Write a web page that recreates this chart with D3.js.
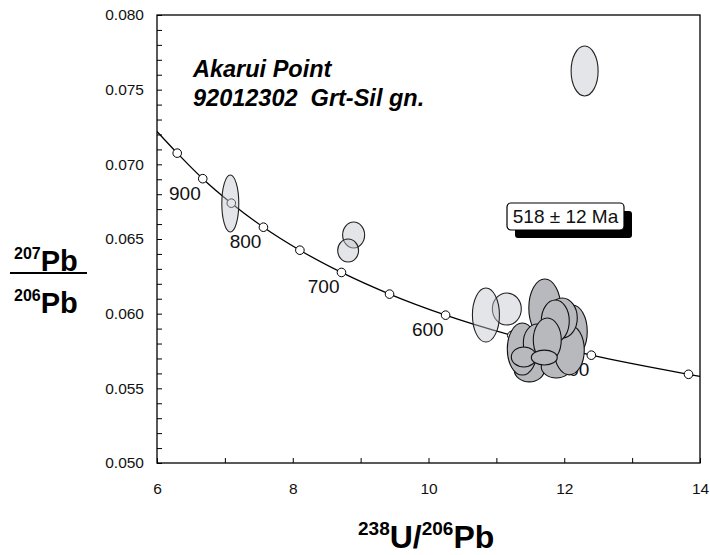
<!DOCTYPE html>
<html><head><meta charset="utf-8">
<script src="https://cdn.jsdelivr.net/npm/d3@7"></script>
<style>
body{margin:0;background:#fff;}
svg{font-family:"Liberation Sans",Arial,Helvetica,sans-serif;}
</style></head>
<body><svg id="c" width="710" height="555"></svg>
<script>
// ---- data ----
const xTicks = [6, 7, 8, 9, 10, 11, 12, 13, 14];
const xTickLabels = [6, 8, 10, 12, 14];
const yTickLabels = [0.050, 0.055, 0.060, 0.065, 0.070, 0.075, 0.080];
// concordia marker ages (Ma) and their positions
const markerAge = [950, 900, 850, 800, 750, 700, 650, 600, 550, 500, 450];
const markerX = [6.298, 6.674, 7.095, 7.568, 8.105, 8.718, 9.426, 10.252, 11.228, 12.399, 13.831];
const markerY = [0.07075, 0.06904, 0.06740, 0.06579, 0.06425, 0.06276, 0.06131, 0.05990, 0.05854, 0.05722, 0.05594];
// concordia curve including plot-edge end points
const curveX = [6.0, 6.298, 6.674, 7.095, 7.568, 8.105, 8.718, 9.426, 10.252, 11.228, 12.399, 13.831, 14.0];
const curveY = [0.07220, 0.07075, 0.06904, 0.06740, 0.06579, 0.06425, 0.06276, 0.06131, 0.05990, 0.05854, 0.05722, 0.05594, 0.05580];
const labelAges = [900, 800, 700, 600, 500];
// light (excluded) error ellipses: centre x, centre y, half-width, half-height
const lightX = [12.30, 7.08, 8.897, 8.816, 11.154, 10.846];
const lightY = [0.07625, 0.06738, 0.06527, 0.06423, 0.06031, 0.05991];
const lightRx = [0.199, 0.125, 0.162, 0.154, 0.213, 0.199];
const lightRy = [0.00167, 0.00191, 0.00087, 0.00077, 0.00107, 0.00181];
// dark (used) error ellipses
const darkX = [11.485, 11.882, 11.382, 11.713, 12.118, 12.074, 11.971, 11.868, 11.603, 11.750, 11.404, 11.706];
const darkY = [0.05623, 0.05646, 0.05763, 0.06038, 0.05881, 0.05757, 0.05971, 0.05951, 0.05804, 0.05824, 0.05710, 0.05706];
const darkRx = [0.221, 0.221, 0.221, 0.235, 0.221, 0.221, 0.221, 0.206, 0.206, 0.206, 0.184, 0.191];
const darkRy = [0.00080, 0.00077, 0.00174, 0.00194, 0.00177, 0.00167, 0.00134, 0.00141, 0.00127, 0.00147, 0.00067, 0.00050];
const titleLines = ["Akarui Point", "92012302  Grt-Sil gn."];
const ageText = "518 \u00b1 12 Ma";

// ---- chart ----
const svg = d3.select("#c");
const L = 157, R = 700, T = 15, B = 463;
const x = d3.scaleLinear().domain([6, 14]).range([L, R]);
const y = d3.scaleLinear().domain([0.05, 0.08]).range([B, T]);

svg.append("defs").append("clipPath").attr("id", "clip")
  .append("rect").attr("x", L).attr("y", T).attr("width", R - L).attr("height", B - T);

// axes
const yAxis = d3.axisLeft(y).tickValues(d3.range(50, 81).map(v => v / 1000))
  .tickSize(-5).tickPadding(13)
  .tickFormat(d => yTickLabels.some(t => Math.abs(t - d) < 1e-9) ? d3.format(".3f")(d) : "");
const gy = svg.append("g").attr("transform", `translate(${L},0)`).call(yAxis);
const xAxis = d3.axisBottom(x).tickValues(xTicks).tickSize(-5).tickPadding(20)
  .tickFormat(d => xTickLabels.includes(d) ? d : "");
const gx = svg.append("g").attr("transform", `translate(0,${B})`).call(xAxis);
[gx, gy].forEach(g => {
  g.select(".domain").remove();
  g.selectAll(".tick line").attr("stroke", "#000").attr("stroke-width", 1);
  g.selectAll(".tick text").attr("font-size", 15.5).attr("fill", "#111")
    .attr("font-family", "'Liberation Sans',Arial,sans-serif");
});

// frame
svg.append("rect").attr("x", L).attr("y", T).attr("width", R - L).attr("height", B - T)
  .attr("fill", "none").attr("stroke", "#000").attr("stroke-width", 1.3);

const plot = svg.append("g").attr("clip-path", "url(#clip)");

// age labels
plot.selectAll("text.age").data(labelAges).join("text")
  .attr("class", "age")
  .attr("x", a => x(markerX[markerAge.indexOf(a)]) - 2)
  .attr("y", a => y(markerY[markerAge.indexOf(a)]) + 21)
  .attr("text-anchor", "end").attr("font-size", 19).attr("fill", "#111").text(a => a);

// concordia
const pts = curveX.map((v, i) => [v, curveY[i]]);
plot.append("path").datum(pts)
  .attr("d", d3.line().x(d => x(d[0])).y(d => y(d[1])).curve(d3.curveMonotoneX))
  .attr("fill", "none").attr("stroke", "#000").attr("stroke-width", 1.3);
plot.selectAll("circle.m").data(markerX).join("circle").attr("class", "m")
  .attr("cx", d => x(d)).attr("cy", (d, i) => y(markerY[i])).attr("r", 4.3)
  .attr("fill", "#fff").attr("stroke", "#000").attr("stroke-width", 1);

// ellipses
function ell(g, X, Y, RX, RY, fill, op, stroke) {
  g.selectAll(null).data(X).join("ellipse")
    .attr("cx", d => x(d)).attr("cy", (d, i) => y(Y[i]))
    .attr("rx", (d, i) => x(6 + RX[i]) - x(6))
    .attr("ry", (d, i) => y(0.05) - y(0.05 + RY[i]))
    .attr("fill", fill).attr("fill-opacity", op)
    .attr("stroke", stroke).attr("stroke-width", 1.1);
}
ell(plot.append("g"), lightX, lightY, lightRx, lightRy, "#c4c6cc", 0.45, "#222");
ell(plot.append("g"), darkX, darkY, darkRx, darkRy, "#b8b9bd", 1, "#111");

// title
svg.append("g").selectAll("text").data(titleLines).join("text")
  .attr("x", 193).attr("y", (d, i) => 77 + i * 29)
  .style("white-space", "pre")
  .attr("font-size", 23.5).attr("font-weight", "bold").attr("font-style", "italic")
  .attr("fill", "#000").text(d => d);

// age box with shadow
const bx = 507, by = 203, bw = 117, bh = 27;
svg.append("rect").attr("x", bx + 8).attr("y", by + 8).attr("width", bw).attr("height", bh)
  .attr("rx", 3).attr("fill", "#000");
svg.append("rect").attr("x", bx).attr("y", by).attr("width", bw).attr("height", bh)
  .attr("rx", 4).attr("fill", "#fff").attr("stroke", "#000").attr("stroke-width", 1.2);
svg.append("text").attr("x", bx + bw / 2).attr("y", by + 20).attr("text-anchor", "middle")
  .attr("font-size", 19).attr("fill", "#111").text(ageText);

// y title (fraction)
const yt = svg.append("g").attr("font-weight", "bold").attr("fill", "#000");
const t1 = yt.append("text").attr("x", 14).attr("y", 271);
t1.append("tspan").attr("font-size", 16).attr("dy", -12).text("207");
t1.append("tspan").attr("font-size", 29).attr("dy", 12).text("Pb");
yt.append("line").attr("x1", 10).attr("x2", 87).attr("y1", 273).attr("y2", 273)
  .attr("stroke", "#000").attr("stroke-width", 2);
const t2 = yt.append("text").attr("x", 14).attr("y", 313);
t2.append("tspan").attr("font-size", 16).attr("dy", -12).text("206");
t2.append("tspan").attr("font-size", 29).attr("dy", 12).text("Pb");

// x title
const xt = svg.append("text").attr("x", 358).attr("y", 548).attr("font-weight", "bold").attr("fill", "#000");
xt.append("tspan").attr("font-size", 19).attr("dy", -13).text("238");
xt.append("tspan").attr("font-size", 32).attr("dy", 13).text("U/");
xt.append("tspan").attr("font-size", 19).attr("dy", -13).text("206");
xt.append("tspan").attr("font-size", 32).attr("dy", 13).text("Pb");
</script></body></html>
